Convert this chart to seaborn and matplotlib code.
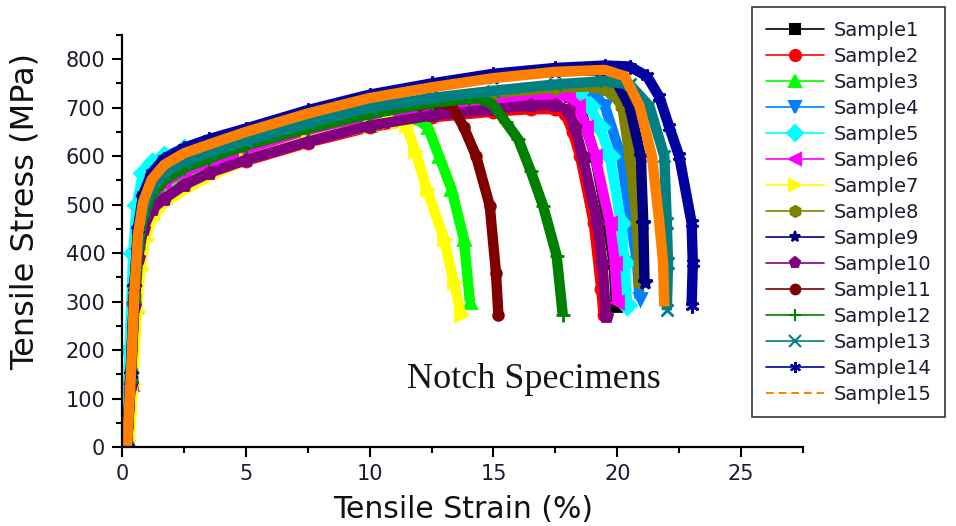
import matplotlib
matplotlib.use("Agg")
import matplotlib.pyplot as plt
from matplotlib.lines import Line2D
from matplotlib.ticker import MultipleLocator
import seaborn as sns
import pandas as pd

# Stress-strain readings for the fifteen notched samples (strain in %, stress in MPa)
s1_strain = [0.2, 0.35, 0.5, 0.65, 0.85, 1.2, 1.7, 2.5, 3.5, 5, 7.5, 10, 12.5, 15, 17.5, 18.1, 18.5, 19.1, 19.6, 19.85, 19.95]
s1_stress = [0, 130, 300, 410, 478, 518, 548, 570, 590, 615, 648, 680, 700, 714, 725, 725, 700, 600, 463, 380, 290]

s2_strain = [0.2, 0.35, 0.5, 0.65, 0.85, 1.2, 1.7, 2.5, 3.5, 5, 7.5, 10, 12.5, 15, 16.5, 17.5, 17.9, 18.2, 18.5, 19.05, 19.35, 19.45]
s2_stress = [0, 130, 290, 390, 450, 490, 515, 540, 565, 590, 628, 660, 680, 692, 697, 697, 688, 650, 600, 463, 327, 272]

s3_strain = [0.25, 0.4, 0.55, 0.7, 0.9, 1.2, 1.7, 2.5, 3.5, 5, 7.5, 10, 11.0, 11.8, 12.35, 12.8, 13.3, 13.8, 14.05]
s3_stress = [0, 130, 290, 380, 440, 485, 515, 545, 570, 600, 638, 665, 677, 680, 660, 600, 533, 430, 300]

s4_strain = [0.2, 0.35, 0.5, 0.65, 0.85, 1.2, 1.7, 2.5, 3.5, 5, 7.5, 10, 12.5, 15, 17.5, 18.6, 19.2, 19.5, 20.15, 20.55, 20.8, 20.9]
s4_stress = [0, 140, 310, 420, 485, 525, 555, 578, 596, 620, 655, 685, 705, 718, 728, 730, 720, 703, 600, 463, 380, 306]

s5_strain = [0.15, 0.3, 0.45, 0.6, 0.85, 1.2, 1.7, 2.5, 3.5, 5, 7.5, 10, 12.5, 15, 17.5, 18.4, 18.9, 19.3, 19.7, 20.15, 20.3, 20.4]
s5_stress = [0, 200, 400, 500, 565, 585, 600, 615, 627, 643, 668, 692, 710, 722, 731, 732, 703, 660, 600, 463, 380, 292]

s6_strain = [0.2, 0.35, 0.5, 0.65, 0.85, 1.2, 1.7, 2.5, 3.5, 5, 7.5, 10, 12.5, 15, 17.5, 18.0, 18.4, 18.75, 19.1, 19.7, 19.9, 20.0]
s6_stress = [0, 130, 300, 410, 475, 515, 545, 568, 587, 612, 645, 677, 698, 712, 724, 724, 703, 660, 600, 463, 380, 300]

s7_strain = [0.3, 0.45, 0.6, 0.75, 0.95, 1.2, 1.7, 2.5, 3.5, 5, 7.5, 10, 10.8, 11.1, 11.45, 11.85, 12.3, 13.0, 13.4, 13.7]
s7_stress = [0, 130, 280, 370, 430, 470, 503, 530, 558, 592, 632, 662, 672, 670, 665, 610, 533, 430, 340, 272]

s8_strain = [0.2, 0.35, 0.5, 0.65, 0.85, 1.2, 1.7, 2.5, 3.5, 5, 7.5, 10, 12.5, 15, 17.5, 19.0, 19.8, 20.2, 20.5, 20.8, 20.9]
s8_stress = [0, 140, 310, 420, 485, 530, 560, 583, 602, 628, 663, 695, 715, 730, 741, 744, 730, 703, 600, 463, 340]

s9_strain = [0.2, 0.35, 0.5, 0.65, 0.85, 1.2, 1.7, 2.5, 3.5, 5, 7.5, 10, 12.5, 15, 17.5, 19.3, 19.9, 20.5, 20.95, 21.05, 21.1]
s9_stress = [0, 150, 330, 450, 515, 560, 590, 612, 630, 652, 690, 722, 745, 763, 775, 777, 760, 703, 600, 463, 340]

s10_strain = [0.2, 0.35, 0.5, 0.65, 0.85, 1.2, 1.7, 2.5, 3.5, 5, 7.5, 10, 12.5, 15, 16.5, 17.5, 18.0, 18.3, 18.6, 19.2, 19.4, 19.55]
s10_stress = [0, 130, 290, 390, 450, 490, 512, 540, 565, 592, 630, 663, 684, 697, 705, 706, 695, 660, 600, 463, 380, 270]

s11_strain = [0.2, 0.35, 0.5, 0.65, 0.85, 1.2, 1.7, 2.5, 3.5, 5, 7.5, 10, 12.0, 12.7, 13.3, 13.8, 14.3, 14.85, 15.1, 15.2]
s11_stress = [0, 140, 310, 420, 485, 530, 560, 585, 605, 630, 665, 692, 705, 710, 705, 660, 600, 498, 360, 272]

s12_strain = [0.2, 0.35, 0.5, 0.65, 0.85, 1.2, 1.7, 2.5, 3.5, 5, 7.5, 10, 12.5, 14.0, 14.5, 15.0, 15.5, 16.0, 16.5, 17.0, 17.55, 17.8]
s12_stress = [0, 135, 300, 410, 475, 520, 550, 575, 595, 622, 657, 687, 710, 718, 719, 705, 670, 635, 570, 498, 395, 272]

s13_strain = [0.2, 0.35, 0.5, 0.65, 0.85, 1.2, 1.7, 2.5, 3.5, 5, 7.5, 10, 12.5, 15, 17.5, 19.5, 20.5, 21.3, 21.9, 22.0, 22.05, 22.0]
s13_stress = [0, 150, 320, 430, 490, 535, 565, 588, 607, 632, 668, 700, 720, 735, 748, 755, 748, 703, 600, 463, 380, 282]

s14_strain = [0.2, 0.35, 0.5, 0.65, 0.85, 1.2, 1.7, 2.5, 3.5, 5, 7.5, 10, 12.5, 15, 17.5, 19.5, 20.5, 21.2, 21.7, 22.1, 22.5, 23.0, 23.05, 23.0]
s14_stress = [0, 150, 330, 450, 520, 565, 595, 617, 635, 657, 695, 727, 750, 770, 782, 787, 785, 765, 722, 660, 600, 463, 380, 290]

s15_strain = [0.2, 0.35, 0.5, 0.65, 0.85, 1.2, 1.7, 2.5, 3.5, 5, 7.5, 10, 12.5, 15, 17.5, 19.5, 20.3, 20.9, 21.4, 21.7, 21.85, 21.9]
s15_stress = [0, 140, 320, 440, 505, 552, 582, 606, 624, 650, 688, 720, 742, 761, 774, 778, 765, 703, 600, 463, 380, 290]

sample_names = [f"Sample{i}" for i in range(1, 16)]
strains = [s1_strain, s2_strain, s3_strain, s4_strain, s5_strain, s6_strain, s7_strain, s8_strain,
           s9_strain, s10_strain, s11_strain, s12_strain, s13_strain, s14_strain, s15_strain]
stresses = [s1_stress, s2_stress, s3_stress, s4_stress, s5_stress, s6_stress, s7_stress, s8_stress,
            s9_stress, s10_stress, s11_stress, s12_stress, s13_stress, s14_stress, s15_stress]

colors = ["#000000", "#FF0000", "#00FF00", "#0080FF", "#00FFFF", "#FF00FF", "#FFFF00", "#808000",
          "#000080", "#800080", "#800000", "#008000", "#008080", "#0000A0", "#FF8000"]
markers = ["s", "o", "^", "v", "D", "<", ">", "h", "*", "p", "o", "+", "x", (6, 2, 0), None]
marker_sizes = [7, 8, 9, 9, 9, 9, 9, 9, 10, 9, 7, 10, 9, 10, 0]

x_ticks = [0, 5, 10, 15, 20, 25]
y_ticks = [0, 100, 200, 300, 400, 500, 600, 700, 800]

frames = []
for name, xs, ys in zip(sample_names, strains, stresses):
    frames.append(pd.DataFrame({"Sample": name, "Strain": xs, "Stress": ys}))
df = pd.concat(frames, ignore_index=True)

sns.set_style("ticks")
plt.rcParams["font.family"] = ["DejaVu Sans"]

fig = plt.figure(figsize=(9.56, 5.26), dpi=100)
ax = fig.add_axes([122 / 956, 1 - 447 / 526, (803 - 122) / 956, (447 - 35) / 526])

# Thick bands: each sample is drawn as a heavy line with its symbol at every reading
for name, c, m, ms in zip(sample_names, colors, markers, marker_sizes):
    sub = df[df["Sample"] == name]
    kw = dict(color=c, linewidth=7.5, solid_capstyle="butt")
    if m is not None:
        kw.update(marker=m, markersize=ms, markeredgecolor=c, markerfacecolor=c, markeredgewidth=2)
    sns.lineplot(data=sub, x="Strain", y="Stress", sort=False, estimator=None,
                 ax=ax, legend=False, **kw)

ax.set_xlim(0, 27.5)
ax.set_ylim(0, 850)
ax.set_xticks(x_ticks)
ax.set_yticks(y_ticks)
ax.xaxis.set_minor_locator(MultipleLocator(2.5))
ax.yaxis.set_minor_locator(MultipleLocator(50))
sns.despine(ax=ax)
for side in ("left", "bottom"):
    ax.spines[side].set_linewidth(1.6)
    ax.spines[side].set_color("black")
ax.tick_params(which="major", direction="out", length=7, width=1.5, pad=5,
               labelsize=15, colors="black", labelcolor="#1c1c30")
ax.tick_params(which="minor", direction="out", length=4, width=1.5, colors="black")

# Axis titles, centred at fixed spots below / left of the tick labels
ax.set_xlabel("Tensile Strain (%)", fontsize=21.5, color="#111111", va="center", ha="center")
ax.set_ylabel("Tensile Stress (MPa)", fontsize=23, color="#111111", va="center", ha="center")
ax.xaxis.set_label_coords((463 - 122) / (803 - 122), -(510 - 447) / (447 - 35))
ax.yaxis.set_label_coords(-(122 - 25) / (803 - 122), (447 - 212) / (447 - 35))

ax.text(16.65, 140, "Notch Specimens", family="Liberation Serif", fontsize=26,
        color="#151515", ha="center", va="center")

handles = []
for name, c, m, ms in zip(sample_names, colors, markers, marker_sizes):
    if m is None:
        handles.append(Line2D([], [], color=c, linewidth=1.4, linestyle=(0, (4, 2.5))))
    else:
        handles.append(Line2D([], [], color=c, linewidth=1.2, marker=m,
                              markersize=min(ms, 8), markeredgewidth=1.5,
                              markerfacecolor=c, markeredgecolor=c))

leg = fig.legend(handles, sample_names, loc="upper left",
                 bbox_to_anchor=(752 / 956, 1 - 7 / 526), frameon=True, fancybox=False,
                 fontsize=14, handlelength=3.0, handletextpad=0.5, labelspacing=0.36,
                 borderpad=0.7, borderaxespad=0, numpoints=1)
leg.get_frame().set_edgecolor("black")
leg.get_frame().set_linewidth(1.2)
for t in leg.get_texts():
    t.set_color("#1c1c30")

fig.savefig("out.png", dpi=100)
